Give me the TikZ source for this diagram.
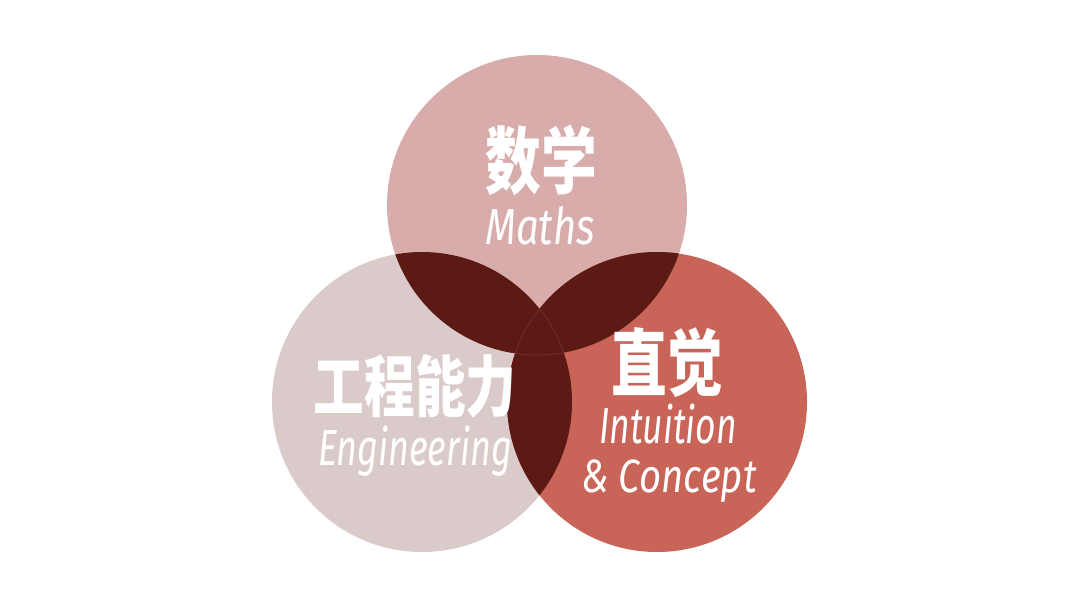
\documentclass[tikz,border=0pt]{standalone}
\usepackage{fontspec}
\usepackage{graphicx}
\newfontfamily\cjk{Noto Sans CJK SC}[FakeStretch=0.76]
\newfontfamily\latin{Fira Sans}
\definecolor{cTop}{HTML}{D8ACAA}
\definecolor{cLeft}{HTML}{DBCACA}
\definecolor{cRight}{HTML}{C86458}
\definecolor{cDark}{HTML}{5C1A14}
\definecolor{cSeam}{HTML}{74302A}
\tikzset{
  zh/.style={text=white, inner sep=0pt, anchor=base},
  en/.style={text=white, inner sep=0pt, anchor=base},
}
\begin{document}
\begin{tikzpicture}[x=0.75pt,y=-0.75pt]
\useasboundingbox (0,0) rectangle (1080,606);
\fill[white] (0,0) rectangle (1080,606);
\coordinate (T) at (537,205);
\coordinate (L) at (422,402);
\coordinate (R) at (657,402);
\def\rad{150}
\fill[cTop] (T) circle[radius=\rad];
\fill[cLeft] (L) circle[radius=\rad];
\fill[cRight] (R) circle[radius=\rad];
\begin{scope}
  \clip (T) circle[radius=\rad];
  \fill[cDark] (L) circle[radius=\rad];
  \fill[cDark] (R) circle[radius=\rad];
\end{scope}
\begin{scope}
  \clip (L) circle[radius=\rad];
  \fill[cDark] (R) circle[radius=\rad];
\end{scope}
% faint seams of the triple region
\begin{scope}
  \clip (T) circle[radius=\rad]; \clip (L) circle[radius=\rad];
  \draw[cSeam, line width=0.6pt] (R) circle[radius=\rad];
\end{scope}
\begin{scope}
  \clip (T) circle[radius=\rad]; \clip (R) circle[radius=\rad];
  \draw[cSeam, line width=0.6pt] (L) circle[radius=\rad];
\end{scope}
\begin{scope}
  \clip (L) circle[radius=\rad]; \clip (R) circle[radius=\rad];
  \draw[cSeam, line width=0.6pt] (T) circle[radius=\rad];
\end{scope}
% texts
\node[zh, font=\cjk\bfseries\fontsize{55}{55}\selectfont] (mathzh) at (541,188) {数学};
\node[en, font=\latin\itshape\fontsize{38}{38}\selectfont] (mathen) at (540,244) {\scalebox{0.79}[1]{Maths}};
\node[zh, font=\cjk\bfseries\fontsize{50}{50}\selectfont] (engzh) at (415,411) {工程能力};
\node[en, font=\latin\itshape\fontsize{38}{38}\selectfont] (engen) at (415,465) {\scalebox{0.71}[1]{Engineering}};
\node[zh, font=\cjk\bfseries\fontsize{55}{55}\selectfont] (intzh) at (667,390) {直觉};
\node[en, font=\latin\itshape\fontsize{38}{38}\selectfont] (inten) at (668,443) {\scalebox{0.70}[1]{Intuition}};
\node[en, font=\latin\itshape\fontsize{35}{35}\selectfont] (intcon) at (669,492) {\scalebox{0.82}[1]{\& Concept}};
\end{tikzpicture}
\end{document}
